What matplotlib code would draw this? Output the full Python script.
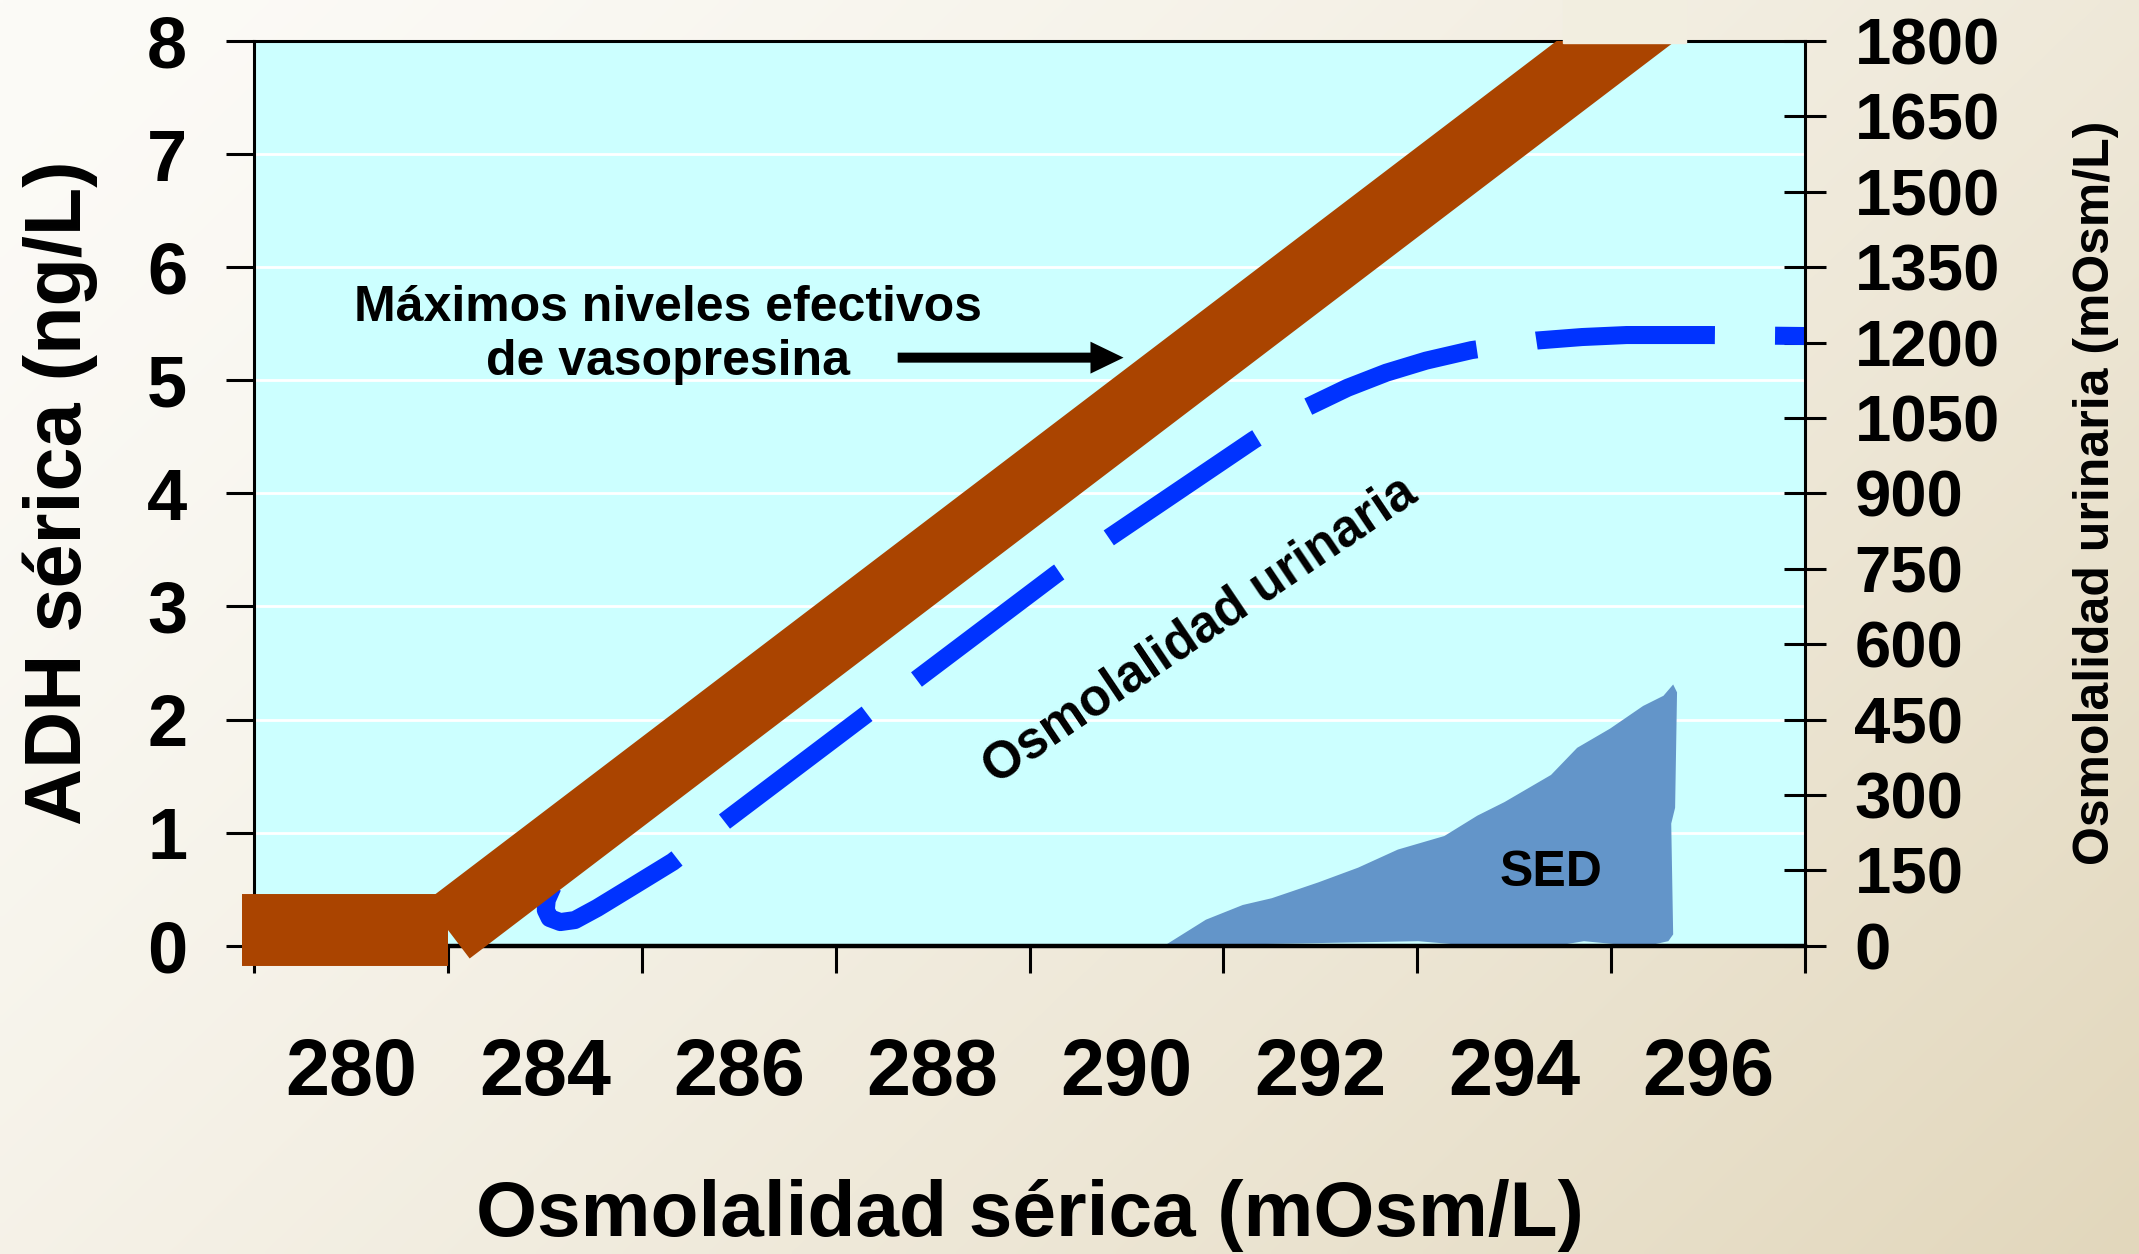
import numpy as np
import matplotlib
matplotlib.use("Agg")
import matplotlib.pyplot as plt
from matplotlib.patches import Rectangle

plt.rcParams['font.family'] = ['Liberation Sans', 'DejaVu Sans']
plt.rcParams['font.weight'] = 'bold'

# ---------------- data ----------------
x_major_ticks = [281, 283, 285, 287, 289, 291, 293, 295, 297]
x_label_pos = [282, 284, 286, 288, 290, 292, 294, 296]
x_tick_labels = ['280', '284', '286', '288', '290', '292', '294', '296']
adh_ticks = [0, 1, 2, 3, 4, 5, 6, 7, 8]
urine_ticks = [0, 150, 300, 450, 600, 750, 900, 1050, 1200, 1350, 1500, 1650, 1800]

# basal ADH level (horizontal band)
basal_osm = [280.88, 283.0]
basal_adh = [0.14, 0.14]
# maximum effective vasopressin levels (diagonal band)
max_osm = [283.0, 296.2]
max_adh = [0.14, 8.75]

# urine osmolality curve (mOsm/L)
urine_osm = [284.08, 284.02, 284.01, 284.05, 284.16, 284.31, 284.54, 284.88,
             285.32, 285.86, 287.39, 287.83, 289.28, 289.83, 291.31, 291.87,
             292.28, 292.68, 293.09, 293.56, 294.23, 294.70, 295.16, 296.01, 297.0]
urine_val = [117, 91, 71, 55, 47, 51, 75, 115,
             167, 248, 471, 529, 740, 813, 1006, 1072,
             1110, 1140, 1164, 1185, 1204, 1211, 1215, 1215, 1213]

# thirst (SED) area, in ADH units
sed_osm = [290.41, 290.82, 291.20, 291.50, 291.98, 292.39, 292.80, 293.28,
           293.62, 293.90, 294.38, 294.65, 294.99, 295.33, 295.54, 295.64,
           295.68, 295.66, 295.62, 295.64, 295.59,
           295.33, 294.72, 294.51, 294.10, 293.55, 293.01, 291.78, 290.41]
sed_adh = [0.01, 0.23, 0.36, 0.42, 0.56, 0.69, 0.85, 0.97,
           1.15, 1.27, 1.51, 1.75, 1.92, 2.12, 2.21, 2.31,
           2.24, 1.22, 1.08, 0.10, 0.04,
           -0.01, 0.04, 0.01, -0.01, 0.00, 0.04, 0.02, 0.00]

# ---------------- figure ----------------
W, H = 2139, 1254
fig = plt.figure(figsize=(W / 100, H / 100), dpi=100)

# background gradient
bg = fig.add_axes([0, 0, 1, 1], zorder=-10)
gx = np.linspace(0, 1, 400)
gy = np.linspace(0, 1, 240)
GX, GY = np.meshgrid(gx, gy)
t = np.clip(0.62 * GX + 0.38 * GY, 0, 1) ** 1.4
c0 = np.array([252, 251, 247]) / 255
c1 = np.array([226, 215, 188]) / 255
img = c0 + (c1 - c0) * t[..., None]
bg.imshow(img, aspect='auto', extent=[0, 1, 0, 1], origin='upper', interpolation='bilinear')
bg.set_axis_off()

ax = fig.add_axes([254 / W, 1 - 945.7 / H, (1805 - 254) / W, (945.7 - 41) / H])
ax.set_facecolor('#CCFFFF')

# white horizontal gridlines
ax.hlines(adh_ticks[1:-1], x_major_ticks[0], x_major_ticks[-1], color='white', lw=2.0, zorder=0.5)

# SED area
ax.fill(sed_osm, sed_adh, color='#6395C9', lw=0, zorder=1)
ax.text(294.38, 0.64, 'SED', ha='center', va='center', fontsize=36, fontweight='bold', zorder=4)

# annotation
ax.text(285.27, 5.40, 'Máximos niveles efectivos\nde vasopresina', ha='center', va='center',
        fontsize=36, fontweight='bold', linespacing=1.2, zorder=4)
ax.annotate('', xy=(289.97, 5.20), xytext=(287.64, 5.20), xycoords='data',
            arrowprops=dict(arrowstyle='simple,head_length=2.38,head_width=2.3,tail_width=0.72',
                            mutation_scale=10, fc='black', ec='none', shrinkA=0, shrinkB=0),
            zorder=4)
ax.text(290.76, 2.79, 'Osmolalidad urinaria', ha='center', va='center', rotation=34,
        rotation_mode='anchor', fontsize=37, fontweight='bold', zorder=4)

ax.set_xlim(281, 297)
ax.set_ylim(0, 8)
ax.set_xticks(x_major_ticks)
ax.set_xticklabels([])
ax.set_xticks(x_label_pos, minor=True)
ax.set_xticklabels(x_tick_labels, minor=True)
ax.tick_params(axis='x', which='major', length=19.5, width=2.2, direction='out', color='black')
ax.tick_params(axis='x', which='minor', length=0, pad=65.7, labelsize=57)
ax.set_yticks(adh_ticks)
ax.set_yticklabels([str(v) for v in adh_ticks])
ax.tick_params(axis='y', which='major', length=20, width=2.2, direction='out', pad=28, labelsize=52)
for s in ['left', 'top']:
    ax.spines[s].set_linewidth(2.2)
ax.spines['bottom'].set_linewidth(3.2)
ax.spines['right'].set_visible(False)

# right axis
ax2 = ax.twinx()
for s in ['left', 'top', 'bottom']:
    ax2.spines[s].set_visible(False)
ax2.spines['right'].set_linewidth(2.2)

ax2.plot(urine_osm, urine_val, color='#0033FF', lw=13, linestyle=(0, (9.9, 3.33)),
         dash_capstyle='butt', dash_joinstyle='round', zorder=2)

clip = Rectangle((-0.05, -0.1), 1.1, 1.1, transform=ax.transAxes)
for xs, ys in [(basal_osm, basal_adh), (max_osm, max_adh)]:
    ln, = ax2.plot(xs, ys, color='#AA4400', lw=51.8, solid_capstyle='butt',
                   transform=ax.transData, zorder=3)
    ln.set_clip_path(clip)

ax2.set_xlim(281, 297)
ax2.set_ylim(0, 1800)
ax2.set_yticks(urine_ticks)
ax2.set_yticklabels([str(v) for v in urine_ticks])
ax2.tick_params(axis='y', direction='inout', length=30, width=2.2, pad=20.6, labelsize=47)

# labels
fig.text(60.5 / W, 1 - 493 / H, 'ADH sérica (ng/L)', rotation=90, ha='center', va='center',
         fontsize=57, fontweight='bold')
fig.text(2096 / W, 1 - 493 / H, 'Osmolalidad urinaria (mOsm/L)', rotation=90, ha='center',
         va='center', fontsize=36, fontweight='bold')
fig.text(1030 / W, 1 - 1236 / H, 'Osmolalidad sérica (mOsm/L)', ha='center', va='baseline',
         fontsize=56.5, fontweight='bold')

# beige box above the band top (as in the original slide)
fig.add_artist(Rectangle((1563 / W, 1 - 43 / H), (1686 - 1563) / W, 43 / H,
                         transform=fig.transFigure, color='#F2EEE0', zorder=5))

fig.savefig('out.png', dpi=100)
